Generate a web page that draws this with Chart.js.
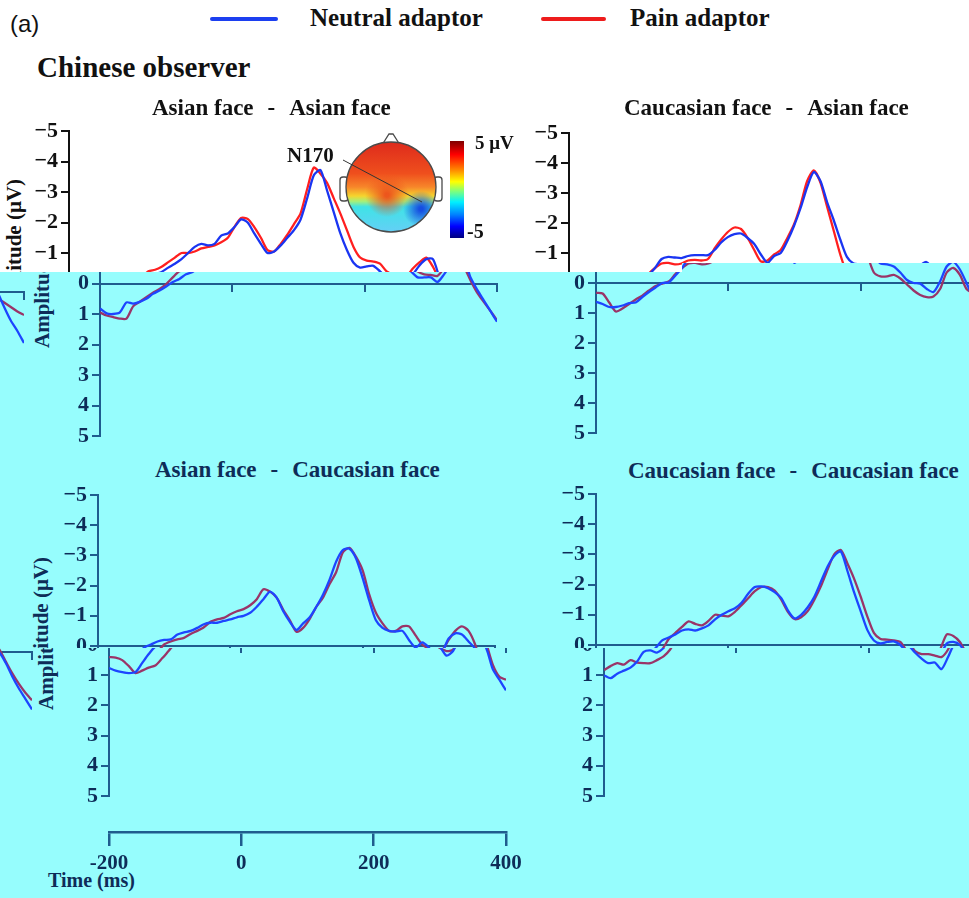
<!DOCTYPE html>
<html lang="en">
<head>
<meta charset="UTF-8">
<meta name="viewport" content="width=device-width, initial-scale=1.0">
<title>Chinese observer - adaptation ERPs</title>
<script src="https://cdn.jsdelivr.net/npm/chart.js@4.4.1/dist/chart.umd.min.js"></script>
<style>
    * { margin: 0; padding: 0; box-sizing: border-box; }
    body { background: #fff; overflow: hidden; }
    #page {
        position: relative; width: 969px; height: 898px; overflow: hidden; background: #fff;
        font-family: 'Liberation Serif', 'Times New Roman', serif; color: #111;
    }
    .band { position: absolute; left: 0; top: 0; width: 969px; height: 898px; }
    #upper { clip-path: polygon(0 0, 969px 0, 969px 263px, 682px 263px, 682px 272px, 0 272px); }
    #mid { background: #96fdfd; clip-path: polygon(0 272px, 682px 272px, 682px 263px, 969px 263px, 969px 648px, 0 648px); }
    #low { background: #96fdfd; clip-path: polygon(0 648px, 969px 648px, 969px 898px, 0 898px); }
    .band canvas { position: absolute; }
    .t { position: absolute; white-space: nowrap; line-height: 1; font-weight: bold; }
    .ptitle { font-size: 23px; }
    .ptitle span { margin: 0 14px; }
    .ylab {
        position: absolute; white-space: nowrap; line-height: 1; font-weight: bold; font-size: 21px;
        transform: translate(-50%, -50%) rotate(-90deg);
    }
    .navy { color: #0e2c58; }
    .swatch { position: absolute; height: 4px; border-radius: 2px; }
</style>
</head>
<body>
<div id="page">
    <div class="band" id="upper">
        <div class="ylab" style="left:14px; top:250px;">Amplitude (μV)</div>
    </div>
    <div class="band" id="mid">
        <div class="ylab navy" style="left:42px; top:277px;">Amplitude (μV)</div>
        <div class="ylab navy" style="left:41px; top:628px;">Amplitude (μV)</div>
        <div class="t ptitle navy" style="left:155px; top:458px;">Asian face<span>-</span>Caucasian face</div>
        <div class="t ptitle navy" style="left:628px; top:459px;">Caucasian face<span>-</span>Caucasian face</div>
    </div>
    <div class="band" id="low">
        <div class="ylab navy" style="left:46px; top:639px;">Amplitude (μV)</div>
        <div class="t navy" style="left:48px; top:870px; font-size:20px;">Time (ms)</div>
    </div>

    <div class="t" style="left:10px; top:12px; font-family:'Liberation Sans', Arial, sans-serif; font-weight:normal; font-size:24px;">(a)</div>
    <div class="swatch" style="left:210px; top:17px; width:68px; background:#1c3ff0;"></div>
    <div class="t" style="left:310px; top:5px; font-size:25px;">Neutral adaptor</div>
    <div class="swatch" style="left:541px; top:17px; width:65px; background:#ee1c1c;"></div>
    <div class="t" style="left:630px; top:5px; font-size:25px;">Pain adaptor</div>
    <div class="t" style="left:37px; top:53px; font-size:29px;">Chinese observer</div>
    <div class="t ptitle" style="left:152px; top:96px;">Asian face<span>-</span>Asian face</div>
    <div class="t ptitle" style="left:624px; top:96px;">Caucasian face<span>-</span>Asian face</div>

    <canvas id="head" width="120" height="115" style="position:absolute; left:330px; top:125px;"></canvas>
    <div style="position:absolute; left:450px; top:141px; width:14px; height:97px;
        background:linear-gradient(#7f0000, #ff0000 14%, #ff8a00 30%, #ffff00 42%, #7dff7d 52%, #00f0ff 63%, #0080ff 76%, #0000ff 88%, #00007f);"></div>
    <div class="t" style="left:287px; top:145px; font-size:21px;">N170</div>
    <div class="t" style="left:475px; top:133px; font-size:19px;">5 μV</div>
    <div class="t" style="left:467px; top:221px; font-size:20px;">-5</div>
</div>

<script>
    // time points (ms) and grand-average amplitudes (µV), one value per time point
    const times = [-200, -190, -180, -170, -160, -150, -140, -130, -120, -110,
        -100, -90, -80, -70, -60, -50, -40, -30, -20, -10,
        0, 10, 20, 30, 40, 50, 60, 70, 80, 90,
        100, 110, 120, 130, 140, 150, 160, 170, 180, 190,
        200, 210, 220, 230, 240, 250, 260, 270, 280, 290,
        300, 310, 320, 330, 340, 350, 360, 370, 380, 390, 400];

    const ampTicks = [-5, -4, -3, -2, -1, 0, 1, 2, 3, 4, 5];
    const timeTicks = [-200, 0, 200, 400];

    // Asian face - Asian face
    const tlNeutral = [0.82, 0.98, 1.0, 0.95, 0.62, 0.66, 0.6, 0.5, 0.34, 0.23,
        0.1, -0.05, -0.15, -0.3, -0.38, -0.52, -0.65, -0.8, -1.0, -1.2,
        -1.3, -1.25, -1.3, -1.57, -1.64, -1.85, -2.1, -2.0, -1.64, -1.3,
        -1.0, -1.05, -1.25, -1.5, -1.75, -2.1, -2.8, -3.55, -3.72, -3.05,
        -2.35, -1.65, -1.1, -0.68, -0.52, -0.56, -0.58, -0.4, -0.2, -0.2,
        -0.2, -0.05, -0.3, -0.6, -0.8, -0.8, -0.2, 0.2, 0.55, 0.9, 1.25];
    const tlPain = [0.95, 1.05, 1.1, 1.15, 1.15, 0.75, 0.6, 0.45, 0.3, 0.18,
        0.02, -0.2, -0.4, -0.45, -0.55, -0.7, -0.85, -1.0, -1.0, -1.05,
        -1.15, -1.2, -1.25, -1.35, -1.5, -1.85, -2.15, -2.12, -1.85, -1.5,
        -1.1, -1.05, -1.3, -1.6, -1.95, -2.3, -3.1, -3.8, -3.6, -3.3,
        -2.8, -2.3, -1.75, -1.2, -0.85, -0.75, -0.72, -0.65, -0.4, -0.3,
        -0.28, -0.25, -0.5, -0.7, -0.85, -0.55, -0.1, 0.3, 0.6, 0.9, 1.2];

    // Caucasian face - Asian face
    const trNeutral = [0.63, 0.7, 0.8, 0.8, 0.75, 0.67, 0.65, 0.47, 0.3, 0.15,
        0.0, -0.02, -0.25, -0.5, -0.8, -0.87, -0.85, -0.83, -0.9, -0.93,
        -0.93, -0.93, -1.1, -1.35, -1.53, -1.63, -1.65, -1.5, -1.3, -0.95,
        -0.67, -0.9, -1.0, -1.4, -1.9, -2.5, -3.2, -3.7, -3.4, -2.7,
        -2.1, -1.45, -0.87, -0.65, -0.62, -0.55, -0.35, -0.1, 0.0, 0.02,
        0.2, 0.3, -0.05, -0.55, -0.7, -0.45, 0.0, 0.5, 0.95, 1.3, 1.7];
    const trPain = [0.33, 0.35, 0.65, 0.95, 0.85, 0.7, 0.55, 0.42, 0.25, 0.1,
        0.02, -0.05, -0.3, -0.5, -0.65, -0.67, -0.62, -0.65, -0.75, -0.77,
        -0.75, -0.8, -1.15, -1.45, -1.7, -1.85, -1.8, -1.5, -1.1, -0.72,
        -0.75, -0.95, -1.1, -1.5, -1.95, -2.6, -3.4, -3.75, -3.35, -2.55,
        -1.75, -0.95, -0.35, -0.22, -0.22, -0.27, -0.15, 0.05, 0.25, 0.4,
        0.47, 0.45, 0.2, -0.35, -0.5, -0.27, 0.2, 0.35, 0.5, 0.65, 0.77];

    // Asian face - Caucasian face
    const blNeutral = [0.76, 0.85, 0.9, 0.93, 0.9, 0.6, 0.3, 0.05, -0.05, -0.15,
        -0.2, -0.22, -0.38, -0.45, -0.5, -0.6, -0.72, -0.77, -0.77, -0.83,
        -0.88, -0.95, -1.0, -1.1, -1.3, -1.55, -1.8, -1.6, -1.15, -0.8,
        -0.53, -0.75, -0.95, -1.3, -1.7, -2.2, -2.8, -3.18, -3.22, -2.9,
        -2.25, -1.5, -0.85, -0.6, -0.5, -0.48, -0.5, -0.2, 0.05, -0.12,
        0.05, 0.35, 0.2, -0.25, -0.42, -0.38, -0.15, 0.1, 0.8, 1.15, 1.5];
    const blPain = [0.4, 0.42, 0.5, 0.7, 0.93, 0.85, 0.75, 0.68, 0.45, 0.2,
        -0.05, -0.15, -0.22, -0.27, -0.4, -0.5, -0.62, -0.8, -0.88, -0.93,
        -1.05, -1.15, -1.22, -1.35, -1.55, -1.88, -1.8, -1.6, -1.2, -0.85,
        -0.47, -0.6, -0.9, -1.3, -1.6, -2.05, -2.45, -3.1, -3.25, -2.95,
        -2.5, -1.7, -1.1, -0.75, -0.5, -0.5, -0.65, -0.65, -0.35, -0.05,
        0.1, 0.2, 0.15, -0.2, -0.5, -0.65, -0.5, -0.05, 0.65, 1.05, 1.15];

    // Caucasian face - Caucasian face
    const brNeutral = [1.0, 1.1, 0.95, 0.85, 0.75, 0.55, 0.23, 0.18, 0.25, 0.1,
        -0.15, -0.25, -0.35, -0.48, -0.52, -0.48, -0.55, -0.65, -0.85, -1.0,
        -1.12, -1.22, -1.4, -1.7, -1.92, -1.94, -1.88, -1.75, -1.55, -1.15,
        -0.88, -1.0, -1.25, -1.6, -2.1, -2.6, -2.95, -3.1, -2.45, -1.75,
        -1.12, -0.5, -0.15, -0.05, -0.1, -0.12, 0.0, 0.25, 0.45, 0.6,
        0.58, 0.8, 0.4, -0.05, -0.1, 0.0, 0.35, 0.8, 1.2, 1.55, 1.9];
    const brPain = [0.83, 0.7, 0.6, 0.65, 0.5, 0.58, 0.6, 0.6, 0.5, 0.38,
        0.15, -0.2, -0.4, -0.6, -0.78, -0.7, -0.65, -0.8, -1.0, -0.97,
        -0.95, -1.1, -1.32, -1.55, -1.78, -1.92, -1.92, -1.8, -1.5, -1.1,
        -0.86, -0.92, -1.12, -1.5, -1.95, -2.5, -3.0, -3.15, -2.7, -2.2,
        -1.6, -0.95, -0.4, -0.2, -0.18, -0.15, -0.1, 0.2, 0.3, 0.3,
        0.35, 0.4, 0.15, -0.35, -0.3, -0.1, 0.3, 0.7, 1.05, 1.35, 1.6];

    const PLOT_W = 397;
    const LIGHT = { red: '#ff1f1f', blue: '#1a35f2', axis: '#111111', text: '#111111' };
    const CYAN = { red: '#9a3468', blue: '#1d45ff', axis: '#1f5c8e', text: '#0e2c58' };

    Chart.defaults.font.family = "'Liberation Serif', 'Times New Roman', serif";
    Chart.defaults.font.weight = 'bold';

    function points(values) {
        return times.map((t, i) => ({ x: t, y: values[i] }));
    }

    // one copy of a panel, placed so that its plot area starts at (x0, y0)
    function buildFrame(bandId, pain, neutral, x0, y0, h, th) {
        const band = document.getElementById(bandId);
        const cv = document.createElement('canvas');
        cv.width = 70 + PLOT_W + 20;
        cv.height = 24 + h + 24;
        band.appendChild(cv);

        const chart = new Chart(cv, {
            type: 'line',
            data: {
                datasets: [
                    { label: 'Neutral adaptor', data: points(neutral), borderColor: th.blue, borderWidth: 2.3,
                      pointRadius: 0, tension: 0.25, fill: false },
                    { label: 'Pain adaptor', data: points(pain), borderColor: th.red, borderWidth: 2.3,
                      pointRadius: 0, tension: 0.25, fill: false }
                ]
            },
            options: {
                responsive: false,
                animation: false,
                events: [],
                layout: { padding: { left: 30, right: 20, top: 24, bottom: 24 } },
                plugins: { legend: { display: false }, tooltip: { enabled: false } },
                scales: {
                    x: {
                        type: 'linear', min: -200, max: 400, position: { y: 0 },
                        afterBuildTicks: s => { s.ticks = timeTicks.map(v => ({ value: v })); },
                        border: { display: true, color: th.axis, width: 2 },
                        grid: { drawOnChartArea: false, drawTicks: true, tickLength: 7, color: th.axis, lineWidth: 2 },
                        ticks: { display: false }
                    },
                    y: {
                        type: 'linear', reverse: true, min: -5, max: 5,
                        afterFit: s => { s.width = 40; },
                        afterBuildTicks: s => { s.ticks = ampTicks.map(v => ({ value: v })); },
                        border: { display: true, color: th.axis, width: 2 },
                        grid: { drawOnChartArea: false, drawTicks: true, tickLength: 8, color: th.axis, lineWidth: 2 },
                        ticks: {
                            color: th.text, padding: 3,
                            font: { family: "'Liberation Serif', serif", size: 22, weight: 'bold' },
                            callback: v => v < 0 ? '\u2212' + (-v) : String(v)
                        }
                    }
                }
            }
        });

        let a = chart.chartArea;
        const dw = PLOT_W - (a.right - a.left);
        const dh = h - (a.bottom - a.top);
        if (Math.abs(dw) > 0.5 || Math.abs(dh) > 0.5) {
            chart.resize(cv.width + dw, cv.height + dh);
            a = chart.chartArea;
        }
        cv.style.left = (x0 - a.left) + 'px';
        cv.style.top = (y0 - a.top) + 'px';
        return chart;
    }

    // the shared time axis under the lower-left panel
    function timeAxis(bandId, x0, yLine, th) {
        const band = document.getElementById(bandId);
        const cv = document.createElement('canvas');
        cv.width = 30 + PLOT_W + 30;
        cv.height = 90;
        band.appendChild(cv);
        const chart = new Chart(cv, {
            type: 'line',
            data: { datasets: [] },
            options: {
                responsive: false,
                animation: false,
                events: [],
                layout: { padding: { left: 30, right: 30, top: 4, bottom: 10 } },
                plugins: { legend: { display: false }, tooltip: { enabled: false } },
                scales: {
                    x: {
                        type: 'linear', min: -200, max: 400, position: 'bottom',
                        afterBuildTicks: s => { s.ticks = timeTicks.map(v => ({ value: v })); },
                        border: { display: true, color: th.axis, width: 2.5 },
                        grid: { drawOnChartArea: false, drawTicks: true, tickLength: 14, color: th.axis, lineWidth: 2.5 },
                        ticks: { color: th.text, padding: 5, maxRotation: 0,
                                 font: { family: "'Liberation Serif', serif", size: 21, weight: 'bold' },
                                 callback: v => String(v) }
                    },
                    y: { display: false, min: 0, max: 1 }
                }
            }
        });
        const a = chart.chartArea;
        cv.style.left = (x0 - a.left) + 'px';
        cv.style.top = (yLine - a.bottom) + 'px';
    }

    // white part of the figure
    buildFrame('upper', tlPain, tlNeutral, 69, 131, 305, LIGHT);
    buildFrame('upper', trPain, trNeutral, 569, 133, 300, LIGHT);
    // cyan middle strip (shifted copy)
    buildFrame('mid', tlPain, tlNeutral, 100, 131, 305, CYAN);
    buildFrame('mid', trPain, trNeutral, 596, 133, 300, CYAN);
    buildFrame('mid', trPain, trNeutral, 596 - 969, 142, 300, CYAN);
    buildFrame('mid', blPain, blNeutral, 98, 495, 302, CYAN);
    buildFrame('mid', brPain, brNeutral, 596, 494, 302, CYAN);
    // cyan lower strip
    buildFrame('low', blPain, blNeutral, 109, 494, 302, CYAN);
    buildFrame('low', brPain, brNeutral, 604, 494, 302, CYAN);
    buildFrame('low', brPain, brNeutral, 604 - 969, 501, 302, CYAN);
    timeAxis('low', 109, 832, CYAN);

    // scalp map inset
    function drawHead() {
        const ctx = document.getElementById('head').getContext('2d');
        const cx = 61, cy = 62, r = 45;
        ctx.lineWidth = 1.3;
        ctx.strokeStyle = '#4a4a4a';
        ctx.fillStyle = '#fff';
        ctx.beginPath();
        ctx.moveTo(cx - 9, cy - r + 3);
        ctx.lineTo(cx - 2, cy - r - 8);
        ctx.lineTo(cx + 2, cy - r - 8);
        ctx.lineTo(cx + 9, cy - r + 3);
        ctx.closePath();
        ctx.fill(); ctx.stroke();
        [[cx - r - 6, cy - 10], [cx + r - 2, cy - 10]].forEach(([x, y]) => {
            ctx.beginPath();
            ctx.roundRect(x, y, 8, 24, 3);
            ctx.fill(); ctx.stroke();
        });

        ctx.save();
        ctx.beginPath();
        ctx.arc(cx, cy, r, 0, Math.PI * 2);
        ctx.clip();
        const g = ctx.createLinearGradient(0, cy - r, 0, cy + r);
        g.addColorStop(0, '#de2a1c');
        g.addColorStop(0.35, '#ef4f1d');
        g.addColorStop(0.5, '#f7862a');
        g.addColorStop(0.6, '#f5d52e');
        g.addColorStop(0.66, '#a5f07a');
        g.addColorStop(0.72, '#3fe3e6');
        g.addColorStop(1, '#64cff6');
        ctx.fillStyle = g;
        ctx.fillRect(cx - r, cy - r, 2 * r, 2 * r);
        let rg = ctx.createRadialGradient(cx - 4, cy + 8, 2, cx - 4, cy + 8, 22);
        rg.addColorStop(0, 'rgba(236,80,28,0.95)');
        rg.addColorStop(1, 'rgba(236,80,28,0)');
        ctx.fillStyle = rg;
        ctx.fillRect(cx - r, cy - r, 2 * r, 2 * r);
        rg = ctx.createRadialGradient(cx + 30, cy + 22, 2, cx + 30, cy + 22, 18);
        rg.addColorStop(0, 'rgba(20,70,225,0.95)');
        rg.addColorStop(1, 'rgba(20,70,225,0)');
        ctx.fillStyle = rg;
        ctx.fillRect(cx - r, cy - r, 2 * r, 2 * r);
        ctx.restore();

        ctx.beginPath();
        ctx.arc(cx, cy, r, 0, Math.PI * 2);
        ctx.stroke();

        ctx.strokeStyle = '#333';
        ctx.lineWidth = 1;
        ctx.beginPath();
        ctx.moveTo(13, 35);
        ctx.lineTo(92, 77);
        ctx.stroke();
    }
    drawHead();
</script>
</body>
</html>
